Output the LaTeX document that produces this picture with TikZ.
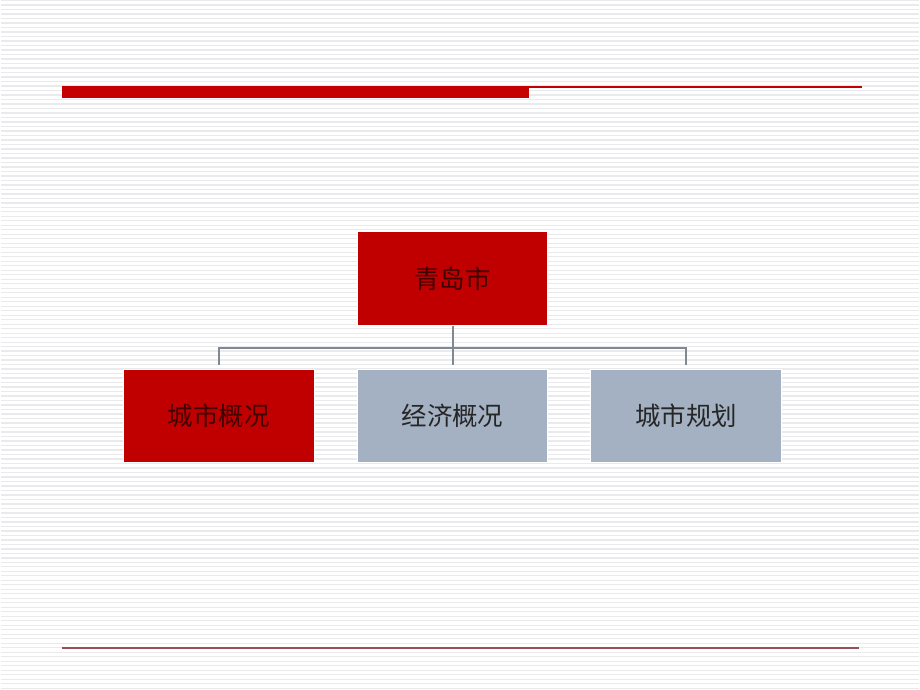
\documentclass[tikz,border=0pt]{standalone}
\usepackage{fontspec}
\setmainfont{Noto Sans CJK SC}
\definecolor{boxred}{RGB}{192,0,0}
\definecolor{boxgray}{RGB}{163,177,194}
\definecolor{linkgray}{RGB}{128,136,146}
\definecolor{stripegray}{RGB}{234,234,236}
\definecolor{rulered}{RGB}{196,0,0}
\definecolor{footred}{RGB}{150,80,86}

\begin{document}
\begin{tikzpicture}[
  x=1pt, y=1pt,
  level distance=137.5pt,
  level 1/.style={sibling distance=234pt},
  every node/.style={rectangle, minimum width=191pt, minimum height=94pt, inner sep=0pt,
    draw=white, line width=1pt, font=\fontsize{25.5}{30}\selectfont},
  redbox/.style={fill=boxred, text=red!25!black},
  graybox/.style={fill=boxgray, text=black!85},
  edge from parent/.style={draw=linkgray, line width=2pt},
  edge from parent path={(\tikzparentnode.south) -- ++(0,-22pt) -| ([yshift=4pt]\tikzchildnode.north)}
]
% background with stripes
\fill[white] (0,0) rectangle (920,690);
\foreach \y in {1,5.5,...,690}
  \draw[stripegray, line width=1.3pt] (0,\y) -- (920,\y);
\useasboundingbox (0,0) rectangle (920,690);

% title rule and footer rule
\fill[rulered] (61,592) rectangle (529,604);
\draw[rulered, line width=1.2pt] (529,603) -- (863,603);
\draw[footred, line width=1.5pt] (61,41) -- (860,41);

\node[redbox] (qd) at (452.5,411) {青岛市}
    child {node[redbox] (csgk) {城市概况}}
    child {node[graybox] (jjgk) {经济概况}}
    child {node[graybox] (csgh) {城市规划}};
\end{tikzpicture}
\end{document}
